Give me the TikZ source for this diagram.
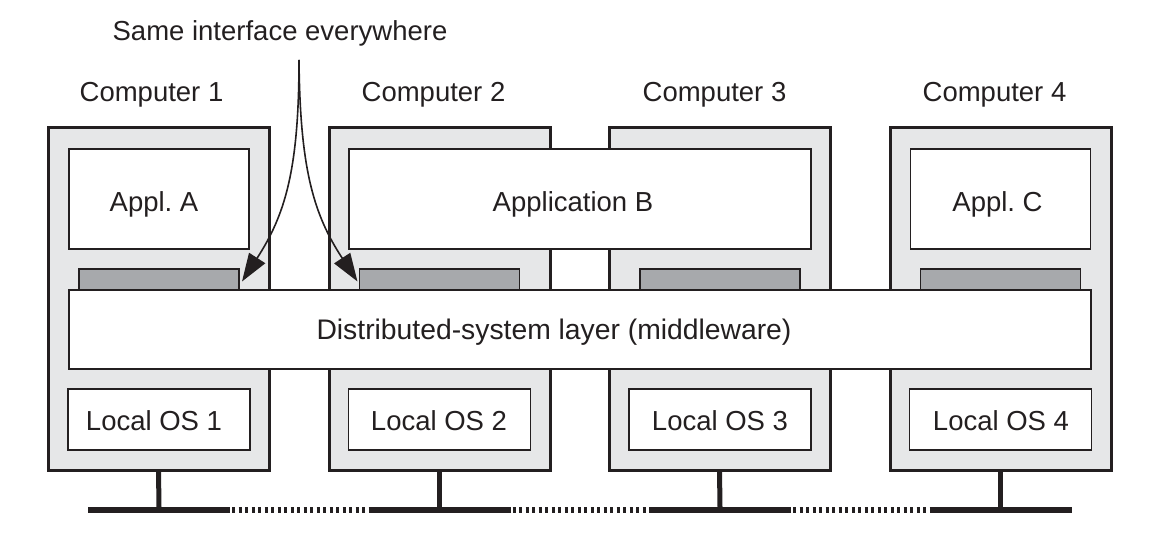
\documentclass[tikz,border=0pt]{standalone}
\usepackage{fontspec}
\setmainfont{Liberation Sans}
\usetikzlibrary{arrows.meta}
\definecolor{ink}{HTML}{231F20}
\definecolor{casegray}{HTML}{E6E7E8}
\definecolor{bargray}{HTML}{A7A9AC}
\tikzset{
  every node/.style={font=\fontsize{27.5}{30}\selectfont, text=ink, inner sep=0pt, outer sep=0pt},
  casebox/.style={draw=ink, fill=casegray, line width=3pt, minimum width=221pt, minimum height=342pt},
  whitebox/.style={draw=ink, fill=white, line width=1.8pt},
  txt/.style={anchor=base},
  ifbar/.style={draw=ink, fill=bargray, line width=1.6pt, minimum width=160pt, minimum height=21pt},
  stem/.style={draw=ink, line width=5pt},
  net/.style={draw=ink, line width=6pt},
  netdots/.style={draw=ink, line width=6pt, dash pattern=on 3pt off 3.5pt},
  callout/.style={draw=ink, line width=1.6pt, -{Triangle[length=28pt,width=19pt]}}
}
\begin{document}
\frenchspacing
\begin{tikzpicture}[x=1pt,y=-1pt]
\useasboundingbox (0,0) rectangle (1160,540);
% computer cases
\foreach \i/\l in {1/48,2/329,3/609,4/890}{
  \node[casebox, anchor=north west] (case\i) at (\l,128) {};
}
% labels
\node[txt] (lab1) at (151.5,102) {Computer 1};
\node[txt] (lab2) at (433.5,102) {Computer 2};
\node[txt] (lab3) at (714.5,102) {Computer 3};
\node[txt] (lab4) at (994.5,102) {Computer 4};
\node[txt] (same) at (280,41) {Same interface everywhere};
% applications
\node[whitebox, minimum width=180pt, minimum height=100pt] (applA) at (159,199) {};
\node[whitebox, minimum width=462pt, minimum height=100pt] (applB) at (580,199) {};
\node[whitebox, minimum width=180pt, minimum height=100pt] (applC) at (1000.5,199) {};
\node[txt] (tA) at (154,212) {Appl. A};
\node[txt] (tB) at (573,212) {Application B};
\node[txt] (tC) at (997.5,212) {Appl. C};
% interface bars
\node[ifbar, anchor=south west] (bar1) at (79,290) {};
\node[ifbar, anchor=south west] (bar2) at (359.5,290) {};
\node[ifbar, anchor=south west] (bar3) at (640,290) {};
\node[ifbar, anchor=south west] (bar4) at (920.5,290) {};
% middleware
\node[whitebox, minimum width=1022pt, minimum height=79pt] (mw) at (580,329.5) {};
\node[txt, font=\fontsize{28.3}{30}\selectfont] (tmw) at (554,339.5) {Distributed-system layer (middleware)};
% local OS
\node[whitebox, minimum width=182pt, minimum height=61pt] (os1) at (159,419.5) {};
\node[whitebox, minimum width=182pt, minimum height=61pt] (os2) at (439.5,419.5) {};
\node[whitebox, minimum width=182pt, minimum height=61pt] (os3) at (720,419.5) {};
\node[whitebox, minimum width=182pt, minimum height=61pt] (os4) at (1000.5,419.5) {};
\node[txt] (tos1) at (154,430) {Local OS 1};
\node[txt] (tos2) at (439,430) {Local OS 2};
\node[txt] (tos3) at (720,430) {Local OS 3};
\node[txt] (tos4) at (1001,430) {Local OS 4};
% stems and network
\foreach \i/\c in {1/159,2/439.5,3/720,4/1000.5}{
  \coordinate (n\i) at (\c,510);
  \coordinate (nl\i) at (\c-71,510);
  \coordinate (nr\i) at (\c+71,510);
  \draw[stem] (case\i.south) -- ([yshift=3pt]n\i);
  \draw[net] (nl\i) -- (nr\i);
}
\draw[netdots] ([xshift=2pt]nr1) -- ([xshift=-2pt]nl2);
\draw[netdots] ([xshift=2pt]nr2) -- ([xshift=-2pt]nl3);
\draw[netdots] ([xshift=2pt]nr3) -- ([xshift=-2pt]nl4);
% callout arrows
\coordinate (src) at (299,60);
\draw[callout] (src) .. controls (299,170) and (285,215) .. ([xshift=3pt,yshift=-2pt]bar1.east);
\draw[callout] (src) .. controls (300,170) and (314,215) .. ([xshift=-2pt,yshift=-2pt]bar2.west);
\end{tikzpicture}
\end{document}
